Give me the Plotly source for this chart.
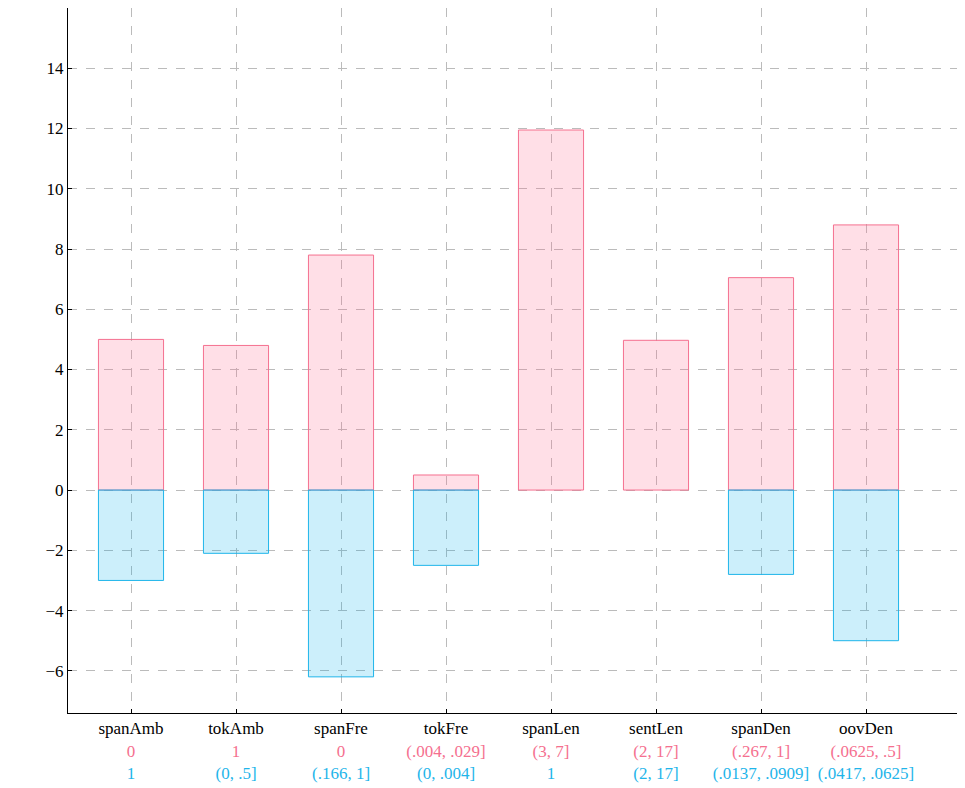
import plotly.graph_objects as go

categories = ["spanAmb", "tokAmb", "spanFre", "tokFre", "spanLen", "sentLen", "spanDen", "oovDen"]
pink_labels = ["0", "1", "0", "(.004, .029]", "(3, 7]", "(2, 17]", "(.267, 1]", "(.0625, .5]"]
blue_labels = ["1", "(0, .5]", "(.166, 1]", "(0, .004]", "1", "(2, 17]", "(.0137, .0909]", "(.0417, .0625]"]
pink_values = [5.0, 4.8, 7.8, 0.5, 11.95, 4.97, 7.05, 8.8]
blue_values = [-3.0, -2.1, -6.2, -2.5, 0, 0, -2.8, -5.0]

PINK = "#f5708f"
BLUE = "#1fb5ea"

xs = list(range(len(categories)))
ticktext = [f"{c}<br><span style='color:{PINK}'>{p}</span><br><span style='color:{BLUE}'>{b}</span>"
            for c, p, b in zip(categories, pink_labels, blue_labels)]

fig = go.Figure()
fig.add_trace(go.Bar(x=xs, y=pink_values, width=0.62,
                     marker=dict(color="rgba(255,110,145,0.22)", line=dict(color=PINK, width=1))))
fig.add_trace(go.Bar(x=[i for i, v in zip(xs, blue_values) if v != 0],
                     y=[v for v in blue_values if v != 0], width=0.62,
                     marker=dict(color="rgba(0,175,235,0.2)", line=dict(color=BLUE, width=1))))

fig.update_layout(
    width=965, height=788,
    barmode="overlay", showlegend=False,
    plot_bgcolor="white", paper_bgcolor="white",
    margin=dict(l=60, r=2, t=0, b=83),
    font=dict(family="Liberation Serif", size=17, color="black"),
)
fig.update_xaxes(range=[-0.6, 8.0], tickvals=xs, ticktext=ticktext,
                 showline=True, linecolor="black", mirror=False,
                 showgrid=True, gridcolor="#bbbbbb", griddash="dash",
                 ticks="inside", ticklen=4, tickcolor="black", zeroline=False)
fig.update_yaxes(range=[-7.4, 16], tickvals=list(range(-6, 15, 2)),
                 ticktext=[str(v) if v >= 0 else "\u2212" + str(-v) for v in range(-6, 15, 2)],
                 showline=True, linecolor="black",
                 showgrid=True, gridcolor="#bbbbbb", griddash="dash",
                 ticks="inside", ticklen=4, tickcolor="black", zeroline=False)

fig.write_html("out.html")
